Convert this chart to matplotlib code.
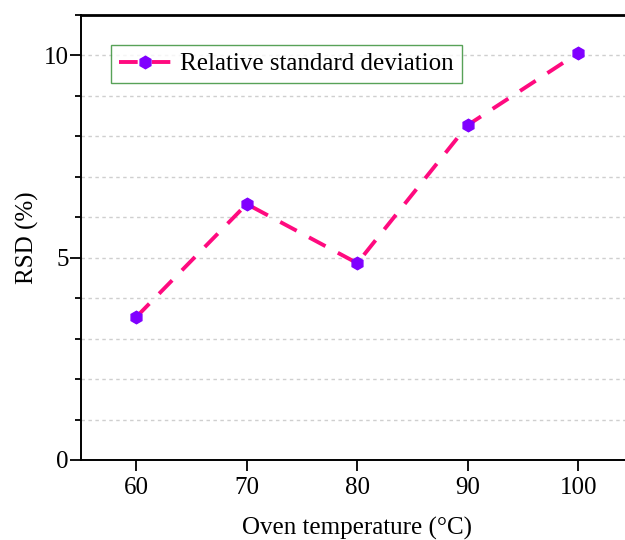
import matplotlib
matplotlib.use("Agg")
import matplotlib.pyplot as plt
from matplotlib.ticker import MultipleLocator

temps = [60, 70, 80, 90, 100]
rsd = [3.53, 6.32, 4.86, 8.27, 10.05]

plt.rcParams['font.family'] = ['Liberation Serif', 'DejaVu Serif']

fig = plt.figure(figsize=(6.25, 5.4), dpi=100)
W, H = 625, 540
left, right, bottom, top = 81, 81 + 552.5, 460, 14.5
ax = fig.add_axes([left / W, 1 - bottom / H, (right - left) / W, (bottom - top) / H])

ax.plot(temps, rsd, color='#ff0a7f', linestyle=(0, (4.8, 3.6)), linewidth=2.8,
        marker='h', markersize=9, markerfacecolor='#8000ff', markeredgecolor='#8000ff',
        label='Relative standard deviation', zorder=3)

ax.set_xlim(55, 105)
ax.set_ylim(0, 11)
ax.set_xticks(temps)
ax.yaxis.set_major_locator(MultipleLocator(5))
ax.yaxis.set_minor_locator(MultipleLocator(1))
ax.grid(True, axis='y', which='both', color='#cfcfcf', linestyle=(0, (2.5, 2.5)), linewidth=1)
ax.set_axisbelow(True)

ax.tick_params(axis='both', which='major', direction='out', length=8, width=1.3, labelsize=18, color='black')
ax.tick_params(axis='y', which='major', pad=1)
ax.tick_params(axis='x', which='major', pad=4)
ax.tick_params(axis='y', which='minor', direction='out', length=4, width=1.3)
ax.tick_params(axis='x', which='minor', bottom=False)
for s in ['left', 'bottom']:
    ax.spines[s].set_linewidth(1.4)
ax.spines['top'].set_linewidth(2.0)
ax.spines['right'].set_visible(False)

ax.set_xlabel('Oven temperature (\u00b0C)', fontsize=18, labelpad=13)
ax.set_ylabel('RSD (%)', fontsize=18, labelpad=3)

leg = ax.legend(loc='upper left', bbox_to_anchor=(0.054, 0.932), borderaxespad=0,
                fontsize=18, frameon=True, fancybox=False, edgecolor='#2e8b2e',
                handlelength=2.1, handletextpad=0.35, borderpad=0.32)
leg.get_frame().set_linewidth(1.0)

fig.savefig('out.png', dpi=100)
